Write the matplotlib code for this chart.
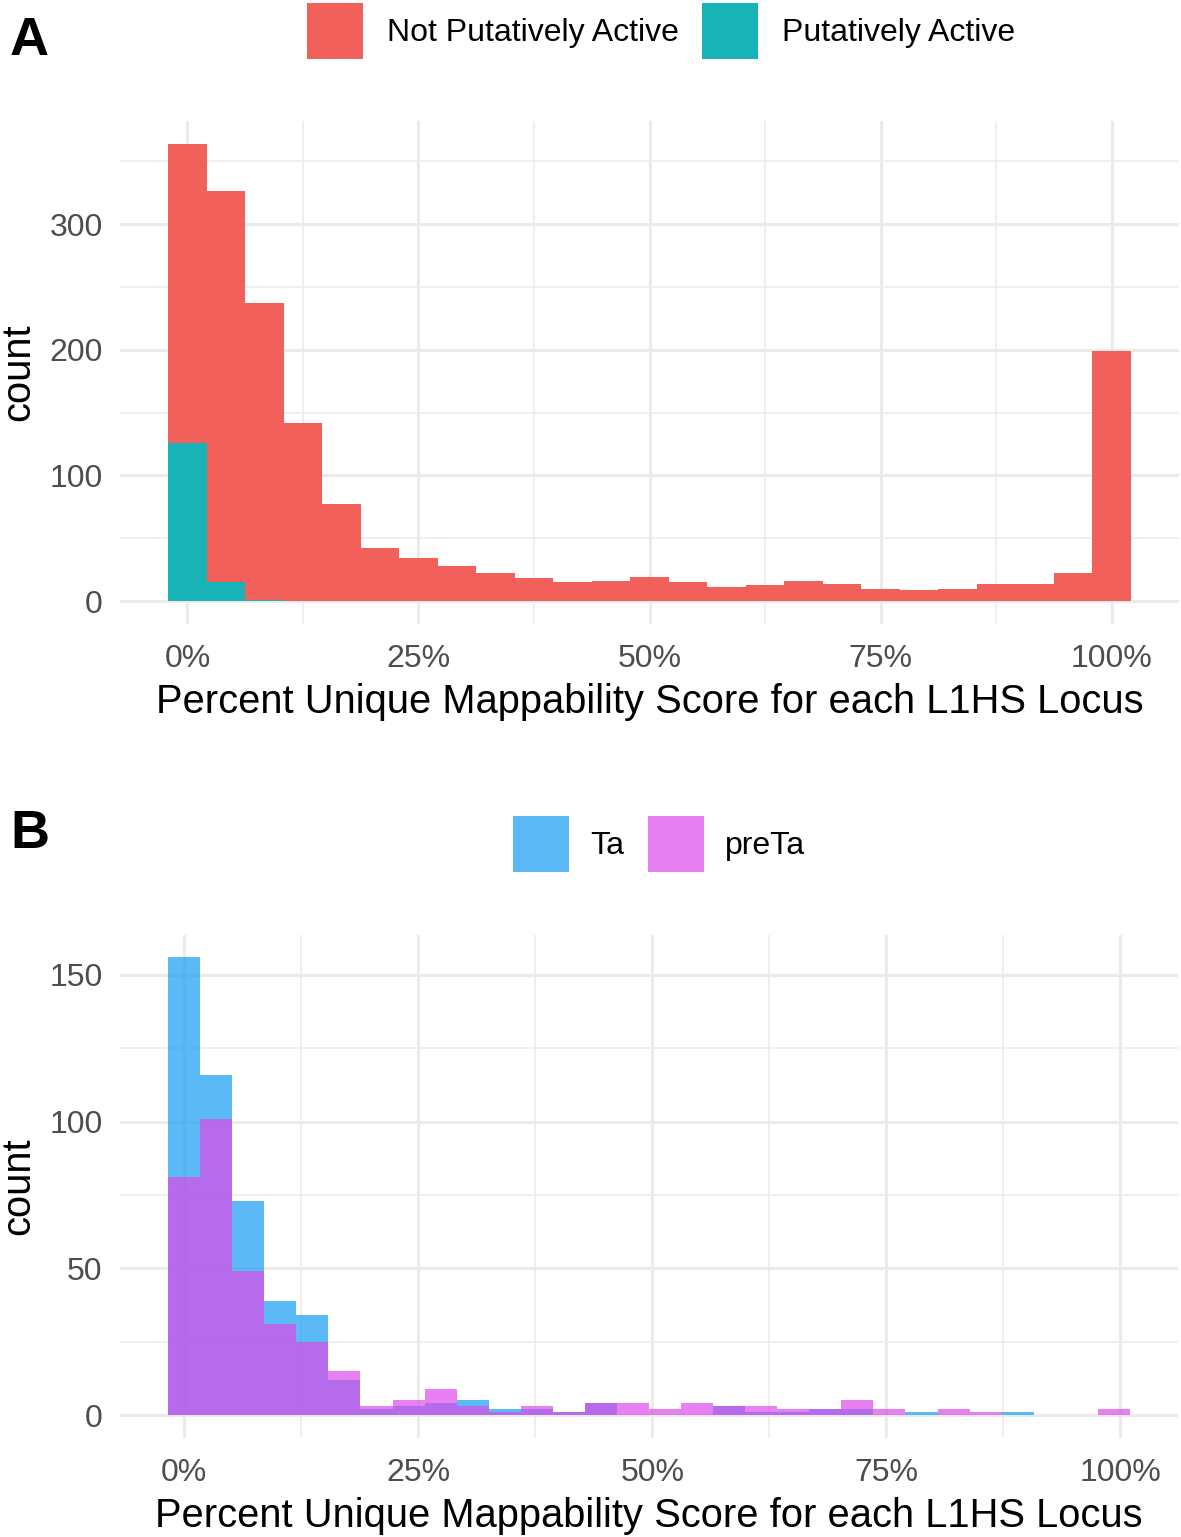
import numpy as np
import matplotlib
matplotlib.use('Agg')
import matplotlib.pyplot as plt
from matplotlib.ticker import MultipleLocator, FuncFormatter

plt.rcParams['font.family'] = ['Liberation Sans', 'DejaVu Sans']

# ---------------- Data ----------------
# Panel A: 25 bins, centres from 0 % to 100 % (stacked)
a_n_bins = 25
a_last_centre = 100.0
a_labels = ['Not Putatively Active', 'Putatively Active']
a_not_active = [238, 311, 236, 142, 77, 42, 34, 28, 22, 18, 15, 16, 19,
                15, 11, 13, 16, 14, 10, 9, 10, 14, 14, 22, 199]
a_active = [126, 15, 1, 0, 0, 0, 0, 0, 0, 0, 0, 0, 0,
            0, 0, 0, 0, 0, 0, 0, 0, 0, 0, 0, 0]

# Panel B: 30 bins, centres from 0 % to ~99.3 % (overlapping, identity)
b_n_bins = 30
b_last_centre = 99.3
b_labels = ['Ta', 'preTa']
b_ta = [156, 116, 73, 39, 34, 12, 2, 3, 4, 5, 2, 2, 1, 4, 0,
        0, 0, 3, 1, 1, 2, 2, 0, 1, 0, 0, 1, 0, 0, 0]
b_preta = [81, 101, 49, 31, 25, 15, 3, 5, 9, 3, 1, 3, 1, 4, 4,
           2, 4, 3, 3, 2, 2, 5, 2, 0, 2, 1, 0, 0, 0, 2]

x_ticks = [0, 25, 50, 75, 100]
x_title = 'Percent Unique Mappability Score for each L1HS Locus'
y_title = 'count'

# ---------------- Style ----------------
W, H = 1181, 1537
fig = plt.figure(figsize=(W / 100, H / 100), dpi=100)

RED = '#F2605B'
TEAL = '#18B3B7'
BLUE = '#169CF1'
PINK = '#DE4AEA'
GRID = '#EBEBEB'
TICK_FS = 23
TITLE_FS = 28.7


def px_axes(l, t, r, b):
    return fig.add_axes([l / W, 1 - b / H, (r - l) / W, (b - t) / H])


def style(ax, ymaj, ymin):
    for s in ax.spines.values():
        s.set_visible(False)
    ax.set_axisbelow(True)
    ax.xaxis.set_major_locator(MultipleLocator(25))
    ax.xaxis.set_minor_locator(MultipleLocator(12.5))
    ax.yaxis.set_major_locator(MultipleLocator(ymaj))
    ax.yaxis.set_minor_locator(MultipleLocator(ymin))
    ax.xaxis.set_major_formatter(FuncFormatter(lambda v, p: f'{v:.0f}%'))
    ax.grid(which='major', color=GRID, lw=2.2)
    ax.grid(which='minor', color=GRID, lw=1.1)
    ax.tick_params(which='both', length=0)
    ax.tick_params(axis='x', pad=14.5, labelsize=TICK_FS, labelcolor='#4D4D4D')
    ax.tick_params(axis='y', pad=12.5, labelsize=TICK_FS, labelcolor='#4D4D4D')


def gg_xlim(last_centre, bw):
    lo, hi = -bw / 2, last_centre + bw / 2
    ex = 0.05 * (hi - lo)
    return lo - ex, hi + ex


# ---------------- Panel A ----------------
axA = px_axes(120, 120.7, 1179, 624)
bwA = a_last_centre / (a_n_bins - 1)
cA = np.arange(a_n_bins) * bwA
axA.bar(cA, a_active, width=bwA, color=TEAL, lw=0, label=a_labels[1], zorder=2)
axA.bar(cA, a_not_active, width=bwA, bottom=a_active, color=RED, lw=0,
        label=a_labels[0], zorder=2)
totA = np.array(a_active) + np.array(a_not_active)
ymaxA = totA.max()
axA.set_ylim(-0.05 * ymaxA, 1.05 * ymaxA)
axA.set_xlim(*gg_xlim(a_last_centre, bwA))
style(axA, 100, 50)
axA.set_xticks(x_ticks)

hA, lA = axA.get_legend_handles_labels()
fig.legend([hA[1], hA[0]], [lA[1], lA[0]], loc='center',
           bbox_to_anchor=(661 / W, 1 - 31 / H), ncol=2, frameon=False,
           fontsize=TICK_FS, handlelength=1.755, handleheight=2.32,
           handletextpad=0.75, columnspacing=0.75, borderpad=0,
           borderaxespad=0)

fig.text(649.5 / W, 1 - 713 / H, x_title, ha='center', va='baseline',
         fontsize=TITLE_FS)
fig.text(18 / W, 1 - 372 / H, y_title, ha='center', va='center',
         rotation=90, fontsize=TITLE_FS)
fig.text(10 / W, 1 - 55 / H, 'A', ha='left', va='baseline', fontsize=39,
         fontweight='bold')

# ---------------- Panel B ----------------
axB = px_axes(120, 934.5, 1178, 1437.9)
bwB = b_last_centre / (b_n_bins - 1)
cB = np.arange(b_n_bins) * bwB
axB.bar(cB, b_ta, width=bwB, color=BLUE, alpha=0.7, lw=0, label=b_labels[0], zorder=2)
axB.bar(cB, b_preta, width=bwB, color=PINK, alpha=0.7, lw=0, label=b_labels[1], zorder=3)
ymaxB = max(max(b_ta), max(b_preta))
axB.set_ylim(-0.05 * ymaxB, 1.05 * ymaxB)
axB.set_xlim(*gg_xlim(b_last_centre, bwB))
style(axB, 50, 25)
axB.set_xticks(x_ticks)

fig.legend(*axB.get_legend_handles_labels(), loc='center',
           bbox_to_anchor=(659 / W, 1 - 844 / H), ncol=2, frameon=False,
           fontsize=TICK_FS, handlelength=1.755, handleheight=2.32,
           handletextpad=0.65, columnspacing=0.75, borderpad=0,
           borderaxespad=0)

fig.text(649 / W, 1 - 1527 / H, x_title, ha='center', va='baseline',
         fontsize=TITLE_FS)
fig.text(18 / W, 1 - 1186 / H, y_title, ha='center', va='center',
         rotation=90, fontsize=TITLE_FS)
fig.text(10 / W, 1 - 848 / H, 'B', ha='left', va='baseline', fontsize=39,
         fontweight='bold')

fig.savefig('out.png', dpi=100)
